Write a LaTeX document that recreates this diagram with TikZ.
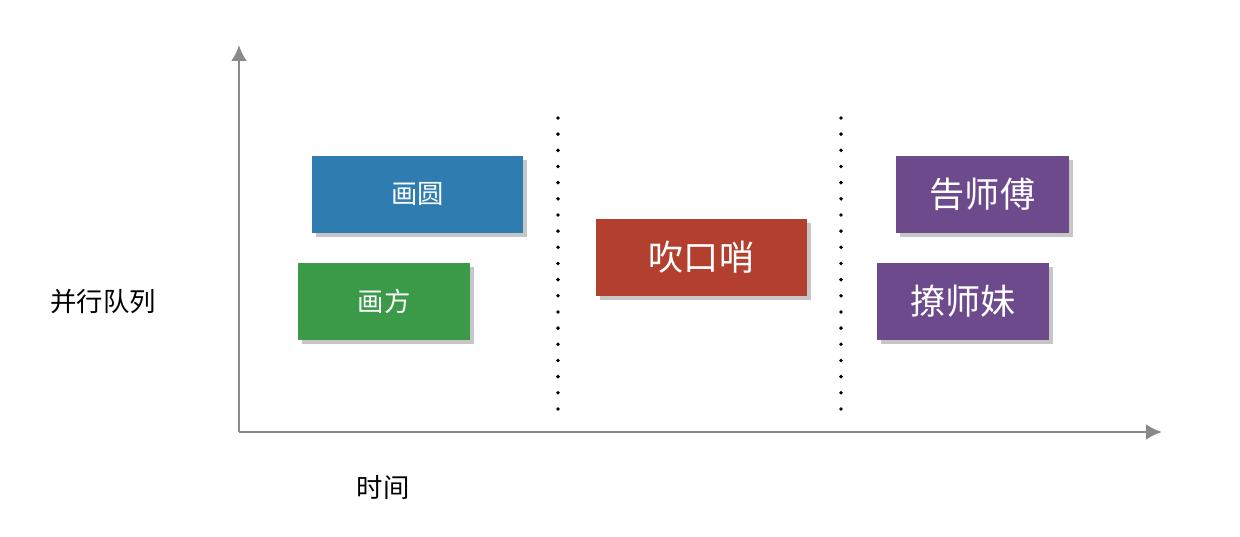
\documentclass[tikz,border=0pt]{standalone}
\usepackage{fontspec}
\newfontfamily\cjk{Noto Sans CJK SC}
\usetikzlibrary{shadows}
\definecolor{axisgray}{HTML}{8A8A8A}
\definecolor{jobblue}{HTML}{2F7DB0}
\definecolor{jobgreen}{HTML}{3A9A48}
\definecolor{jobred}{HTML}{B3402E}
\definecolor{jobpurple}{HTML}{6D4A8C}
\tikzset{
  >=latex,
  axes/.style={line width=1.6pt,draw=axisgray,-{Latex[length=9pt,width=9pt]}},
  job/.style={draw=none,text=white,font=\cjk\fontsize{15}{15}\selectfont,
    inner sep=0pt,drop shadow={shadow xshift=2pt,shadow yshift=-2pt,opacity=.45}},
  sep/.style={line width=2.2pt,dash pattern=on 0pt off 9.2pt,line cap=round},
  every node/.style={font=\cjk}
}
\usetikzlibrary{arrows.meta}
\begin{document}
\begin{tikzpicture}[x=0.02cm,y=-0.02cm]
  \useasboundingbox (0,0) rectangle (1240,537);
  % axes
  \coordinate (o) at (239,432);
  \coordinate (ytop) at (239,45);
  \coordinate (xend) at (1162,432);
  \draw[axes] (o) -- (ytop);
  \draw[axes] (o) -- (xend);
  \node[font=\cjk\fontsize{15}{15}\selectfont] (ylab) at (103,302) {并行队列};
  \node[font=\cjk\fontsize{15}{15}\selectfont] (xlab) at (383,488) {时间};
  % separators
  \coordinate (s1a) at (558,118); \coordinate (s1b) at (558,415);
  \coordinate (s2a) at (841,118); \coordinate (s2b) at (841,415);
  \draw[sep] (s1a) -- (s1b);
  \draw[sep] (s2a) -- (s2b);
  % jobs
  \node[job,fill=jobblue,minimum width=211*0.02cm,minimum height=77*0.02cm]
    (circ) at (417.5,194.5) {画圆};
  \node[job,fill=jobgreen,minimum width=172*0.02cm,minimum height=77*0.02cm]
    (square) at (384,301.5) {画方};
  \node[job,fill=jobred,minimum width=211*0.02cm,minimum height=77*0.02cm,
    font=\cjk\fontsize{20}{20}\selectfont] (whistle) at (701.5,257.5) {吹口哨};
  \node[job,fill=jobpurple,minimum width=173*0.02cm,minimum height=77*0.02cm,
    font=\cjk\fontsize{20}{20}\selectfont] (tell) at (982.5,194.5) {告师傅};
  \node[job,fill=jobpurple,minimum width=172*0.02cm,minimum height=77*0.02cm,
    font=\cjk\fontsize{20}{20}\selectfont] (flirt) at (963,301.5) {撩师妹};
\end{tikzpicture}
\end{document}
